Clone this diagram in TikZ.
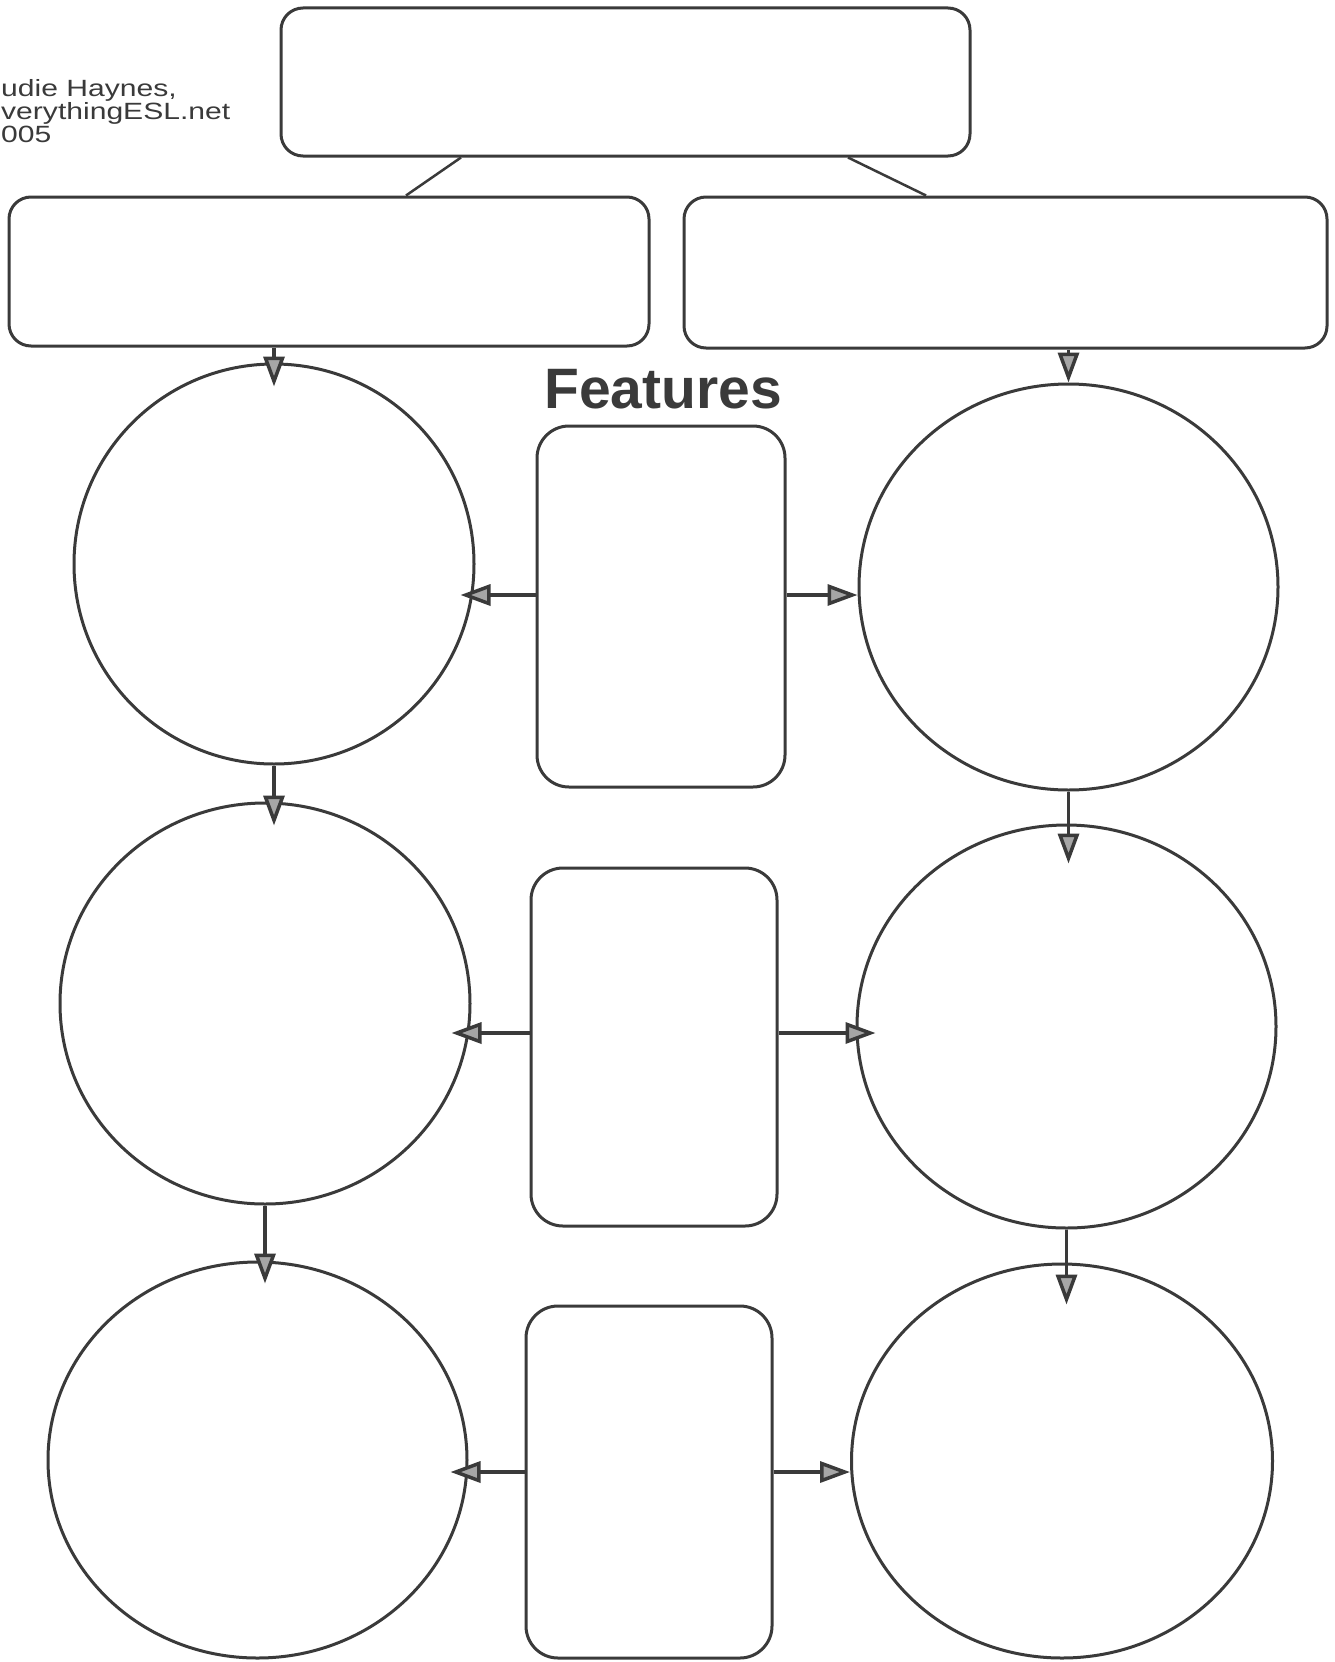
\documentclass[tikz,border=0pt]{standalone}
\usepackage{fontspec}
\setmainfont{Liberation Sans}
\usepackage{xcolor}
\usepackage{tikz}
\usetikzlibrary{shapes.geometric, arrows.meta}
\definecolor{ink}{HTML}{3A3A3A}
\tikzstyle{wide}     = [rectangle, rounded corners=22pt, draw=ink, line width=3pt,
                        inner sep=0pt]
\tikzstyle{featbox}  = [rectangle, rounded corners=32pt, draw=ink, line width=3pt,
                        inner sep=0pt]
\tikzstyle{ring}     = [ellipse, draw=ink, line width=3pt, inner sep=0pt]
\tikzstyle{arr}      = [-{Triangle[length=30pt, width=21pt, fill=gray!70]},
                        draw=ink, line width=3.5pt]
\tikzstyle{link}     = [draw=ink, line width=2.5pt]
\tikzstyle{credit}   = [anchor=base west, inner sep=0pt, text=ink,
                        font=\fontsize{23.5}{23.5}\selectfont]
\newcommand{\wider}[1]{\scalebox{1.28}[1]{#1}}

\begin{document}
\begin{tikzpicture}[x=1pt, y=-1pt]
  \useasboundingbox (0,0) rectangle (1335,1662);

  \node[credit] (name) at (1,96) {\wider{udie Haynes,}};
  \node[credit] (site) at (1,119) {\wider{verythingESL.net}};
  \node[credit] (year) at (1,142) {\wider{005}};

  \node[wide, minimum width=689pt, minimum height=148pt] (top) at (625.5,82) {};
  \node[wide, minimum width=640pt, minimum height=149pt] (lbox) at (329,271.5) {};
  \node[wide, minimum width=643pt, minimum height=151pt] (rbox) at (1005.5,272.5) {};

  \draw[link] ([xshift=-164.5pt]top.south) -- ([xshift=77pt]lbox.north);
  \draw[link] ([xshift=222.5pt]top.south) -- ([xshift=-79.5pt]rbox.north);

  \node[font=\fontsize{57}{57}\selectfont\bfseries, text=ink, inner sep=0pt,
        anchor=base] (feat) at (663,408) {Features};

  % feature boxes
  \node[featbox, minimum width=248pt, minimum height=361pt] (f1) at (661,606.5) {};
  \node[featbox, minimum width=246pt, minimum height=358pt] (f2) at (654,1047) {};
  \node[featbox, minimum width=246pt, minimum height=352pt] (f3) at (649,1482) {};

  % circles
  \node[ring, minimum width=400pt, minimum height=400pt] (lc1) at (274,564) {};
  \node[ring, minimum width=410pt, minimum height=401pt] (lc2) at (265,1003.5) {};
  \node[ring, minimum width=419pt, minimum height=396pt] (lc3) at (257.5,1460) {};
  \node[ring, minimum width=419pt, minimum height=406pt] (rc1) at (1068.5,587) {};
  \node[ring, minimum width=419pt, minimum height=403pt] (rc2) at (1066.5,1026.5) {};
  \node[ring, minimum width=421pt, minimum height=394pt] (rc3) at (1062,1461) {};

  % down arrows
  \draw[arr, shorten >=-24pt] (lbox.south -| lc1.north) -- (lc1.north);
  \draw[arr] (rbox.south -| rc1.north) -- (rc1.north);
  \draw[arr, shorten >=-24pt] (lc1.south) -- (lc1.south |- lc2.north);
  \draw[arr, shorten >=-23pt] (lc2.south) -- (lc2.south |- lc3.north);
  \draw[arr, shorten >=-40pt] (rc1.south) -- (rc1.south |- rc2.north);
  \draw[arr, shorten >=-42pt] (rc2.south) -- (rc2.south |- rc3.north);

  % side arrows
  \coordinate (f1l) at ([yshift=11.5pt]f1.west);
  \coordinate (f1r) at ([yshift=11.5pt]f1.east);
  \coordinate (f2l) at ([yshift=14pt]f2.west);
  \coordinate (f2r) at ([yshift=14pt]f2.east);
  \coordinate (f3l) at ([yshift=10pt]f3.west);
  \coordinate (f3r) at ([yshift=10pt]f3.east);

  \draw[arr, shorten >=-15pt] (f1l) -- (f1l -| lc1.east);
  \draw[arr] (f1r) -- (f1r -| rc1.west);
  \draw[arr, shorten >=-20pt] (f2l) -- (f2l -| lc2.east);
  \draw[arr, shorten >=-20pt] (f2r) -- (f2r -| rc2.west);
  \draw[arr, shorten >=-18pt] (f3l) -- (f3l -| lc3.east);
  \draw[arr] (f3r) -- (f3r -| rc3.west);
\end{tikzpicture}
\end{document}
